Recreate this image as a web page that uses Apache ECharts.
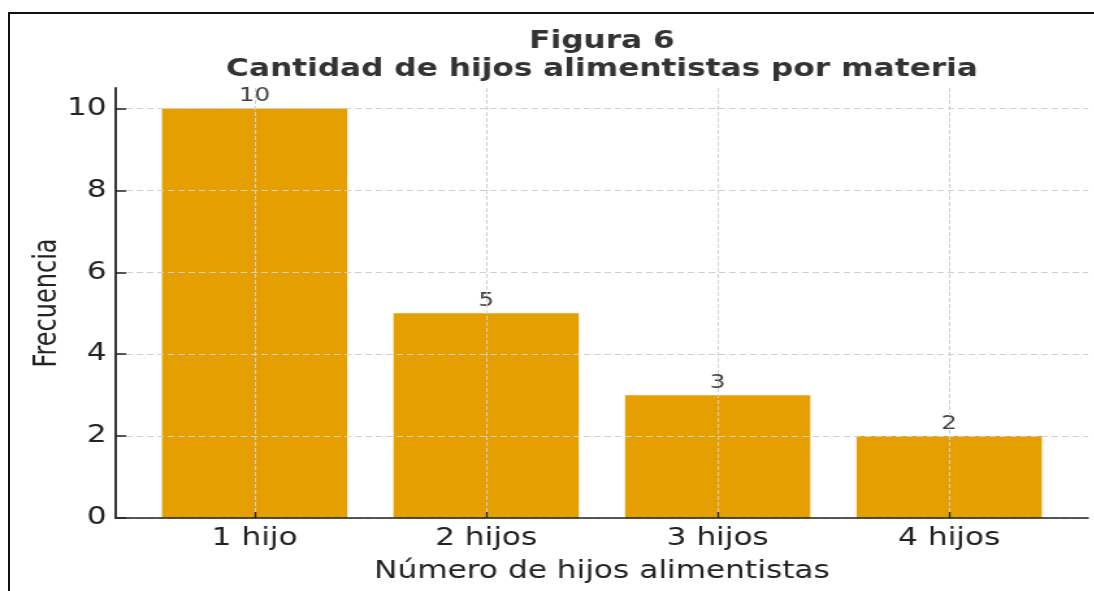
<!DOCTYPE html>
<html>
<head>
<meta charset="utf-8">
<script src="https://cdn.jsdelivr.net/npm/echarts@6/dist/echarts.min.js"></script>
<style>
  html, body { margin: 0; padding: 0; background: #fff; overflow: hidden; }
  /* marco negro recortado de la figura */
  .frame {
    position: absolute; left: 8px; top: 12px; width: 1200px; height: 700px;
    border-top: 2px solid #111; border-left: 2px solid #111;
  }
  /* la figura original está estirada en horizontal */
  #main {
    position: absolute; left: 0; top: 0; width: 842px; height: 591px;
    transform: scaleX(1.3); transform-origin: 0 0;
  }
</style>
</head>
<body>
<div class="frame"></div>
<div id="main"></div>
<script>
// datos
var categorias = ["1 hijo", "2 hijos", "3 hijos", "4 hijos"];
var frecuencias = [10, 5, 3, 2];
var yTicks = [0, 2, 4, 6, 8, 10];
var xTicks = [0, 1, 2, 3];

var font = "DejaVu Sans";
var myChart = echarts.init(document.getElementById("main"));

var option = {
  animation: false,
  textStyle: { fontFamily: font },
  title: {
    text: "Figura 6\nCantidad de hijos alimentistas por materia",
    left: 458,
    textAlign: "center",
    top: 23,
    textStyle: {
      fontFamily: font,
      fontWeight: "bold",
      fontSize: 24,
      lineHeight: 28,
      color: "#333"
    }
  },
  grid: { left: 89, right: 5, top: 88, bottom: 73 },
  xAxis: {
    type: "value",
    min: -0.6,
    max: 3.6,
    z: 3,
    name: "Número de hijos alimentistas",
    nameLocation: "middle",
    nameGap: 42,
    nameTextStyle: { fontSize: 24, color: "#222", fontFamily: font },
    axisLine: { lineStyle: { color: "#222", width: 1.5 } },
    axisTick: { show: true, inside: true, length: 6, customValues: xTicks, lineStyle: { color: "#222", width: 1.3 } },
    axisLabel: {
      customValues: xTicks,
      fontSize: 24,
      color: "#222",
      margin: 9,
      formatter: function (v) { return categorias[Math.round(v)]; }
    },
    splitLine: { show: true, lineStyle: { color: "#cfcfcf", type: [4, 2], width: 1 } }
  },
  yAxis: {
    type: "value",
    min: 0,
    max: 10.5,
    z: 3,
    name: "Frecuencia",
    nameLocation: "middle",
    nameGap: 40,
    nameMoveOverlap: false,
    nameTextStyle: { fontSize: 24, color: "#222", fontFamily: font },
    axisLine: { show: true, onZero: false, lineStyle: { color: "#222", width: 1.8 } },
    axisTick: { show: true, inside: true, length: 8, customValues: yTicks, lineStyle: { color: "#222", width: 1.5 } },
    axisLabel: { customValues: yTicks, fontSize: 24, color: "#222", margin: 7, padding: [4, 0, 0, 0] },
    splitLine: { show: true, lineStyle: { color: "#cfcfcf", type: [5, 3], width: 1 } }
  },
  series: [
    {
      type: "bar",
      barWidth: "80%",
      z: 1,
      itemStyle: { color: "#E69F00" },
      label: {
        show: true,
        position: "top",
        distance: 3,
        fontSize: 19,
        color: "#444",
        fontFamily: font
      },
      data: frecuencias.map(function (v, i) { return [i, v]; })
    }
  ]
};
myChart.setOption(option);
</script>
</body>
</html>
